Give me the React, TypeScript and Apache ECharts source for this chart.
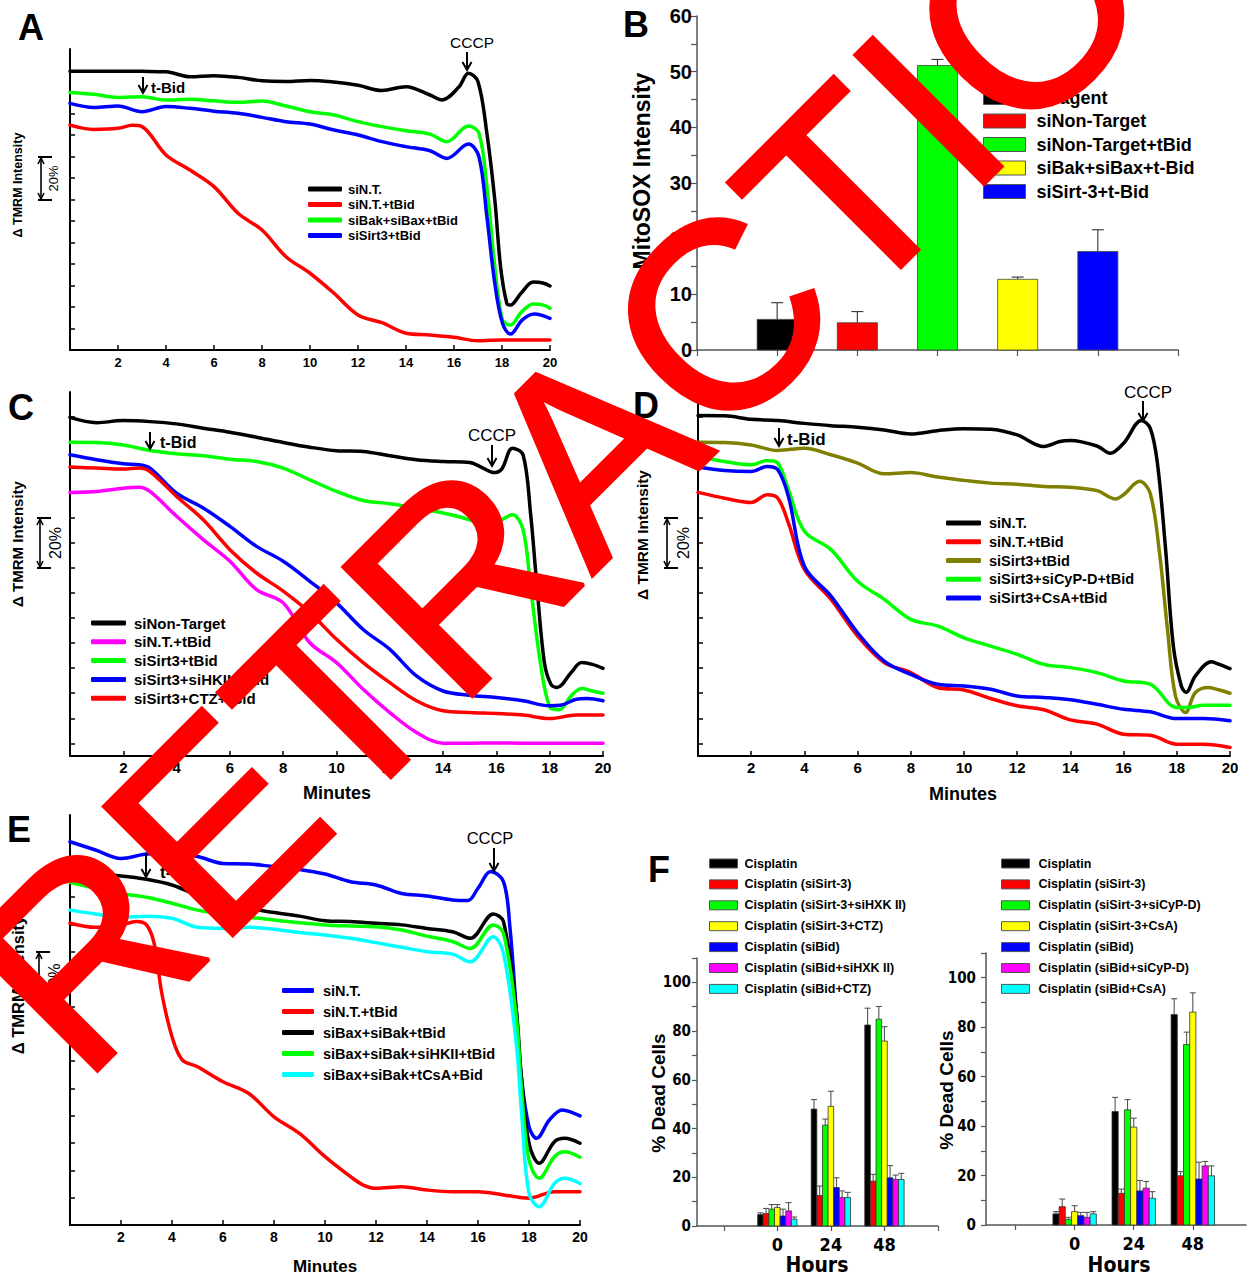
import React, { useEffect, useRef } from "react";
import * as echarts from "echarts";

const SANS = '"Liberation Sans", Arial, Helvetica, sans-serif';
const NARROW = '"Liberation Sans Narrow", "Arial Narrow", "DejaVu Sans Condensed", sans-serif';

const BLACK = "#000000";
const RED = "#ff0000";
const GREEN = "#00ff00";
const BLUE = "#0000ff";
const MAGENTA = "#ff00ff";
const CYAN = "#00ffff";
const YELLOW = "#ffff00";
const OLIVE = "#808000";

// ---------------- Panel A (minutes, relative TMRM %) ----------------
const aNames = ["siN.T.", "siN.T.+tBid", "siBak+siBax+tBid", "siSirt3+tBid"];
const aColors = [BLACK, RED, GREEN, BLUE];
const aNT = [[0,129.7],[2,129.7],[3,129.6],[4,129.4],[5,127.1],[6,127.6],[7,126.8],[8,125.2],[9,124.9],[10,125.4],[11,124.6],[12,123.1],[13,120.7],[14,122.5],[15,118.6],[15.5,116.3],[16.2,122.3],[16.6,128.7],[17,124.8],[17.37,100.8],[17.7,69.8],[17.94,38.8],[18.2,21.7],[18.35,20.9],[18.8,26.5],[19.3,31.6],[19.7,31.2],[20,29.8]];
const aNTtBid = [[0,104.6],[1,102.6],[2,103.1],[2.6,104.5],[3,103.9],[4,90.7],[5,83.7],[6,76.0],[7,63.6],[8,55.8],[9,43.4],[10,35.7],[11,26.4],[12,16.3],[13,12.7],[14,7.8],[15,7.0],[16,5.9],[17,4.3],[18,4.7],[19,4.7],[20,4.7]];
const aBak = [[0,119.8],[1,118.9],[2,117.5],[3,117.8],[4,116.3],[5,116.6],[6,115.9],[7,115.2],[8,115.8],[9,113.5],[10,110.8],[11,109.3],[12,106.2],[13,103.9],[14,102.0],[15,100.4],[15.7,96.9],[16.6,104.2],[17.04,100.8],[17.37,76],[17.7,38.8],[18.02,14],[18.35,11.6],[18.8,17.5],[19.3,21.4],[19.7,21],[20,19.4]];
const aSirt3 = [[0,114.7],[1,112.8],[2,113.5],[3,110.8],[4,113.2],[5,112.4],[6,111.1],[7,110.1],[8,108.2],[9,106.2],[10,105.1],[11,102.3],[12,100.0],[13,96.9],[14,94.6],[15,92.7],[15.7,89.1],[16.6,95.8],[17.04,89.9],[17.37,62],[17.7,31],[18.02,12.4],[18.35,7.4],[18.85,14],[19.34,16.7],[20,14.7]];
const aData = [aNT, aNTtBid, aBak, aSirt3];

// ---------------- Panel B (MitoSOX intensity) ----------------
const bNames = ["Reagent", "siNon-Target", "siNon-Target+tBid", "siBak+siBax+t-Bid", "siSirt-3+t-Bid"];
const bColors = [BLACK, RED, GREEN, YELLOW, BLUE];
const bValues = [5.5, 4.9, 51.1, 12.7, 17.7];
const bErrors = [3.0, 2.0, 1.1, 0.4, 3.9];

// ---------------- Panel C ----------------
const cNames = ["siNon-Target", "siN.T.+tBid", "siSirt3+tBid", "siSirt3+siHKII+tBid", "siSirt3+CTZ+tBid"];
const cColors = [BLACK, MAGENTA, GREEN, BLUE, RED];
const cNT = [[0,129.9],[1,127.8],[2,128.6],[3,128.2],[4,127.3],[5,125.6],[6,124.0],[7,122.0],[8,119.9],[9,118.0],[10,116.6],[11,116.3],[12,114.6],[13,113.0],[14,112.3],[15,111.9],[15.5,109.7],[15.9,107.9],[16.2,109.3],[16.6,117.6],[17.0,115.0],[17.28,91.8],[17.5,65.3],[17.8,32.2],[18.05,23.5],[18.28,22.3],[18.8,28.2],[19.2,32.2],[19.6,31.5],[20,29.9]];
const cNTtBid = [[0,100.0],[1,100.4],[2,101.7],[2.6,102.1],[3,100.4],[4,90.5],[5,81.2],[6,72.6],[7,61.3],[8,56.0],[9,40.1],[10,32.2],[11,21.6],[12,12.3],[13,4.4],[14,0.1],[15,0.1],[16,0.2],[17,0.1],[18,0.1],[19,0.1],[20,0.1]];
const cSirt3 = [[0,120.0],[1,119.9],[2,118.9],[3,116.7],[4,115.4],[5,114.6],[6,113.2],[7,112.3],[8,109.7],[9,105.0],[10,100.4],[11,96.8],[12,95.5],[13,93.8],[14,91.8],[15,89.1],[15.6,86.5],[16.1,88.5],[16.6,91.1],[17.0,85.2],[17.28,62.6],[17.65,32.2],[18.02,14.3],[18.36,13.4],[18.8,18.9],[19.2,21.9],[19.6,20.9],[20,20.0]];
const cHK = [[0,115.0],[1,113.0],[2,111.4],[2.6,111.0],[3,109.7],[4,99.7],[5,93.8],[6,86.5],[7,78.5],[8,72.6],[9,64.6],[10,56.0],[11,45.4],[12,37.5],[13,26.9],[14,20.9],[15,19.2],[16,18.3],[17,17.0],[18,15.0],[18.4,15.2],[19,17.6],[19.4,17.9],[20,17.0]];
const cCTZ = [[0,110.1],[1,109.7],[2,109.3],[2.6,109.7],[3,108.3],[4,98.4],[5,89.1],[6,77.2],[7,67.9],[8,60.7],[9,52.1],[10,41.5],[11,32.2],[12,24.2],[13,17.0],[14,13.0],[15,12.3],[16,11.9],[17,11.3],[18,9.9],[19,11.3],[20,11.3]];
const cData = [cNT, cNTtBid, cSirt3, cHK, cCTZ];

// ---------------- Panel D ----------------
const dNames = ["siN.T.", "siN.T.+tBid", "siSirt3+tBid", "siSirt3+siCyP-D+tBid", "siSirt3+CsA+tBid"];
const dColors = [BLACK, RED, OLIVE, GREEN, BLUE];
const dNT = [[0,130.6],[1,130.5],[2,129.1],[3,128.6],[4,127.5],[5,126.6],[6,126.0],[7,124.9],[8,123.3],[9,124.6],[10,125.4],[11,125.2],[12,122.9],[13,118.3],[13.6,120.3],[14,120.7],[15,118.5],[15.5,115.6],[16,119.6],[16.67,128.6],[17,125.6],[17.27,111.7],[17.57,78.5],[17.87,38.8],[18.17,22.9],[18.35,20.3],[18.7,26.9],[19.3,32.5],[19.6,31.5],[20,29.8]];
const dNTtBid = [[0,100.0],[1,97.7],[2,96.0],[2.6,99.1],[3,97.7],[3.4,87.8],[4,69.3],[5,57.4],[6,42.8],[7,32.2],[8,28.2],[9,22.3],[10,21.3],[11,17.9],[12,15.0],[13,13.4],[14,9.4],[15,7.7],[16,3.7],[17,3.3],[18,-0.3],[19,-0.3],[20,-1.6]];
const dSirt3 = [[0,120.0],[1,119.9],[2,118.9],[3,116.7],[4,117.6],[5,115.0],[6,111.7],[7,107.4],[8,107.9],[9,106.1],[10,104.8],[11,103.7],[12,103.3],[13,102.4],[14,102.1],[15,100.7],[15.7,97.4],[16,99.1],[16.6,104.4],[17,99.7],[17.35,75.9],[17.65,45.4],[17.95,18.9],[18.33,12.3],[18.7,20.3],[19.2,22.3],[19.6,21.3],[20,20.0]];
const dCyp = [[0,114.3],[1,112.3],[2,111.0],[2.6,112.7],[3,111.7],[3.4,101.1],[4,84.5],[5,77.2],[6,64.6],[7,57.4],[8,49.4],[9,46.8],[10,42.1],[11,38.8],[12,35.5],[13,31.5],[14,30.2],[15,28.2],[16,24.9],[17,23.6],[18,14.3],[18.4,14.3],[19,15.2],[20,15.2]];
const dCsA = [[0,110.1],[1,108.7],[2,108.3],[2.6,110.3],[3,109.0],[3.4,98.4],[4,70.6],[5,58.7],[6,44.1],[7,32.8],[8,27.5],[9,23.6],[10,22.9],[11,21.6],[12,18.9],[13,18.3],[14,17.4],[15,15.6],[16,13.6],[17,12.6],[18,9.9],[19,9.9],[20,9.0]];
const dData = [dNT, dNTtBid, dSirt3, dCyp, dCsA];

// ---------------- Panel E ----------------
const eNames = ["siN.T.", "siN.T.+tBid", "siBax+siBak+tBid", "siBax+siBak+siHKII+tBid", "siBax+siBak+tCsA+Bid"];
const eColors = [BLUE, RED, BLACK, GREEN, CYAN];
const eNT = [[0,140.2],[1,137.2],[2,134.1],[3,135.7],[4,136.0],[5,134.8],[6,132.3],[7,132.1],[8,131.1],[9,130.1],[10,128.4],[11,125.6],[12,124.4],[13,121.3],[14,120.4],[15,118.9],[15.6,118.7],[16,123.2],[16.5,129.3],[17,125.6],[17.25,109.1],[17.5,78.7],[17.7,54.3],[18,36.0],[18.3,31.7],[18.8,38.4],[19.3,42.1],[19.6,41.5],[20,39.9]];
const eNTtBid = [[0,110.4],[1,108.9],[2,109.8],[2.6,111.0],[3,109.8],[3.3,103.0],[3.6,84.8],[4,68.9],[4.4,60.4],[5,57.9],[6,52.4],[7,48.2],[8,39.6],[9,33.5],[10,25.0],[11,17.7],[11.5,14.6],[12,13.4],[13,14.0],[14,12.8],[15,12.2],[16,12.2],[17,11.0],[18,9.8],[19,12.2],[20,12.2]];
const eBax = [[0,128.7],[1,128.3],[2,127.7],[3,126.5],[4,124.4],[5,120.7],[6,118.3],[7,115.9],[8,114.3],[9,113.0],[10,111.3],[11,111.0],[12,110.4],[13,109.8],[14,108.5],[15,107.3],[15.7,104.9],[16.6,113.8],[17,111.0],[17.5,78.7],[17.7,54.3],[18,29.9],[18.4,22.6],[19,30.5],[19.4,31.7],[20,29.9]];
const eHK = [[0,125.4],[1,123.2],[2,121.3],[3,119.9],[4,117.7],[5,115.2],[6,113.8],[7,112.6],[8,111.6],[9,110.6],[10,109.8],[11,109.4],[12,109.1],[13,107.9],[14,105.7],[15,103.7],[15.7,101.2],[16.6,109.8],[17,106.7],[17.5,76.2],[17.7,50.6],[18,23.8],[18.4,17.1],[19,25.0],[19.4,26.8],[20,24.8]];
const eCsA = [[0,115.2],[1,113.8],[2,112.6],[3,113.0],[4,112.2],[5,108.9],[6,108.5],[7,108.9],[8,108.2],[9,107.0],[10,106.1],[11,104.9],[12,103.3],[13,101.6],[14,100.0],[15,99.1],[15.7,96.3],[16.6,105.5],[17,99.4],[17.5,66.5],[17.7,42.1],[18,11.6],[18.4,6.7],[19,15.2],[19.4,17.1],[20,15.2]];
const eData = [eNT, eNTtBid, eBax, eHK, eCsA];

// ---------------- Panel F ----------------
const fHours = ["0", "24", "48"];
const fColors = [BLACK, RED, GREEN, YELLOW, BLUE, MAGENTA, CYAN];
const fLeftNames = ["Cisplatin", "Cisplatin (siSirt-3)", "Cisplatin (siSirt-3+siHXK II)", "Cisplatin (siSirt-3+CTZ)", "Cisplatin (siBid)", "Cisplatin (siBid+siHXK II)", "Cisplatin (siBid+CTZ)"];
const fLeftValues = [[4.7,48.0,82.5],[5.1,12.5,18.4],[6.9,41.4,84.9],[7.6,49.1,75.9],[4.1,15.8,19.8],[6.2,11.7,19.1],[2.8,11.7,19.1]];
const fLeftErrors = [[0.7,3.9,6.9],[2.1,3.9,2.8],[1.9,2.5,5.2],[1.2,6.2,5.9],[2.8,4.0,5.0],[3.4,2.7,1.8],[0.9,2.1,2.5]];
const fRightNames = ["Cisplatin", "Cisplatin (siSirt-3)", "Cisplatin (siSirt-3+siCyP-D)", "Cisplatin (siSirt-3+CsA)", "Cisplatin (siBid)", "Cisplatin (siBid+siCyP-D)", "Cisplatin (siBid+CsA)"];
const fRightValues = [[4.5,45.9,85.1],[7.4,12.8,19.9],[2.3,46.6,73.0],[5.4,39.6,86.1],[3.8,13.8,18.6],[3.1,14.9,23.9],[4.5,10.8,19.9]];
const fRightErrors = [[0.9,5.7,6.4],[3.1,1.7,1.7],[0.8,4.1,5.0],[2.4,3.6,7.8],[1.3,4.2,6.8],[2.0,2.7,1.8],[0.9,2.7,4.0]];

// tick lists
const ticksA = [10,20,30,40,50,60,70,80,90,100,110,120,130];
const ticksCD = [0,10,20,30,40,50,60,70,80,90,100,110,120,130];
const ticksE = [10,20,30,40,50,60,70,80,90,100,110,120,130,140];
const ticksB = [0,5,10,15,20,25,30,35,40,45,50,55,60];
const ticksF = [0,10,20,30,40,50,60,70,80,90,100,110];
const labelsF = [0,20,40,60,80,100];

// ---------------- helpers ----------------
function lineSeries(names: string[], colors: string[], datas: number[][][], idx: number) {
  return names.map((n, i) => ({
    type: "line",
    name: n,
    xAxisIndex: idx,
    yAxisIndex: idx,
    data: datas[i],
    symbol: "none",
    showSymbol: false,
    smooth: 0.35,
    lineStyle: { color: colors[i], width: 3.5, cap: "round", join: "round" },
    itemStyle: { color: colors[i] },
    silent: true,
    z: 3,
  }));
}

function makeBarRender(halfW: number, capHalf: number, errColor: string, border: string) {
  return (params: any, api: any) => {
    const x = api.value(0);
    const v = api.value(1);
    const e = api.value(2);
    const p0 = api.coord([x - halfW, v]);
    const p1 = api.coord([x + halfW, 0]);
    const mid = api.coord([x, v]);
    const top = api.coord([x, v + e]);
    const color = api.visual("color");
    return {
      type: "group",
      children: [
        { type: "line", shape: { x1: mid[0], y1: mid[1], x2: top[0], y2: top[1] }, style: { stroke: errColor, lineWidth: 1.1 } },
        { type: "line", shape: { x1: top[0] - capHalf, y1: top[1], x2: top[0] + capHalf, y2: top[1] }, style: { stroke: errColor, lineWidth: 1.1 } },
        { type: "rect", shape: { x: p0[0], y: p0[1], width: p1[0] - p0[0], height: p1[1] - p0[1] }, style: { fill: color, stroke: border, lineWidth: 0.8 } },
      ],
    };
  };
}

function lineLegend(names: string[], colors: string[], left: number, top: number, fontSize: number, lineHeight: number, gap: number, iconW: number, textPad: number) {
  return {
    orient: "vertical",
    left,
    top,
    padding: 0,
    itemWidth: iconW,
    itemHeight: 5,
    itemGap: gap,
    icon: "roundRect",
    selectedMode: false,
    data: names.map((n, i) => ({ name: n, itemStyle: { color: colors[i] } })),
    textStyle: { fontSize, fontWeight: "bold", fontFamily: SANS, color: "#000", lineHeight, padding: [0, 0, 0, textPad] },
  };
}

function barLegend(names: string[], colors: string[], left: number, top: number, fontSize: number, lineHeight: number, gap: number, iconW: number, iconH: number, family: string, textPad: number) {
  return {
    orient: "vertical",
    left,
    top,
    padding: 0,
    itemWidth: iconW,
    itemHeight: iconH,
    itemGap: gap,
    icon: "rect",
    selectedMode: false,
    itemStyle: { borderColor: "#555", borderWidth: 1 },
    data: names.map((n, i) => ({ name: n, itemStyle: { color: colors[i], borderColor: "#555", borderWidth: 1 } })),
    textStyle: { fontSize, fontWeight: "bold", fontFamily: family, color: "#000", lineHeight, padding: [0, 0, 0, textPad] },
  };
}

function lineXAxis(idx: number, fontSize: number, margin: number) {
  return {
    gridIndex: idx,
    type: "value",
    min: 0,
    max: 20,
    interval: 2,
    axisLine: { onZero: false, lineStyle: { color: "#000", width: 2 } },
    axisTick: { inside: true, length: 5, lineStyle: { color: "#000", width: 1.5 } },
    axisLabel: { formatter: (v: number) => (v === 0 ? "" : String(v)), fontSize, fontWeight: "bold", fontFamily: SANS, color: "#000", margin },
    splitLine: { show: false },
  };
}

function lineYAxis(idx: number, min: number, max: number, ticks: number[]) {
  return {
    gridIndex: idx,
    type: "value",
    min,
    max,
    axisLine: { show: true, onZero: false, lineStyle: { color: "#000", width: 2 } },
    axisTick: { show: true, inside: true, length: 5, customValues: ticks, lineStyle: { color: "#000", width: 1.5 } },
    axisLabel: { show: false },
    splitLine: { show: false },
  };
}

function txt(text: string, x: number, y: number, size: number, o: any = {}) {
  const align = o.align || "center";
  return {
    type: "text",
    x,
    y,
    rotation: o.rot || 0,
    z: o.z ?? 50,
    silent: true,
    style: {
      text,
      fontSize: size,
      fontWeight: o.weight || "bold",
      fontFamily: o.family || SANS,
      fill: o.color || "#000",
      textAlign: align,
      align,
      textVerticalAlign: "middle",
      verticalAlign: "middle",
    },
  };
}

function arrowDown(x: number, y1: number, y2: number) {
  return [
    { type: "line", z: 50, silent: true, shape: { x1: x, y1, x2: x, y2: y2 - 1 }, style: { stroke: "#000", lineWidth: 2 } },
    { type: "polyline", z: 50, silent: true, shape: { points: [[x - 4.5, y2 - 8], [x, y2], [x + 4.5, y2 - 8]] }, style: { stroke: "#000", lineWidth: 2, fill: null } },
  ];
}

function scaleBar(x: number, y1: number, y2: number, tx: number, size: number) {
  const st = { stroke: "#000", lineWidth: 1.6, fill: null };
  return [
    { type: "line", z: 50, silent: true, shape: { x1: x, y1, x2: x, y2 }, style: st },
    { type: "line", z: 50, silent: true, shape: { x1: x - 3, y1, x2: x + 11, y2: y1 }, style: { ...st, lineWidth: 2 } },
    { type: "line", z: 50, silent: true, shape: { x1: x - 3, y1: y2, x2: x + 11, y2 }, style: { ...st, lineWidth: 2 } },
    { type: "polyline", z: 50, silent: true, shape: { points: [[x - 3, y1 + 7], [x, y1 + 1], [x + 3, y1 + 7]] }, style: st },
    { type: "polyline", z: 50, silent: true, shape: { points: [[x - 3, y2 - 7], [x, y2 - 1], [x + 3, y2 - 7]] }, style: st },
    txt("20%", tx, (y1 + y2) / 2, size, { rot: Math.PI / 2, weight: "normal" }),
  ];
}

function buildOption() {
  const FW = 0.105;
  const grids = [
    { left: 70, top: 49, width: 480, height: 301 }, // A
    { left: 697, top: 16, width: 481, height: 334 }, // B
    { left: 70, top: 392, width: 533, height: 364 }, // C
    { left: 698, top: 392, width: 532, height: 364 }, // D
    { left: 70, top: 815, width: 510, height: 410 }, // E
    { left: 697, top: 958, width: 241, height: 268 }, // F left
    { left: 986, top: 953, width: 260, height: 272 }, // F right
  ];

  const fX = (idx: number, max: number, tickVals: number[], margin: number) => ({
    gridIndex: idx,
    type: "value",
    min: 0,
    max,
    axisLine: { onZero: false, lineStyle: { color: "#555", width: 1.5 } },
    axisTick: { length: 5, customValues: tickVals, lineStyle: { color: "#555", width: 1.2 } },
    axisLabel: {
      customValues: [1.5, 2.5, 3.5],
      formatter: (v: number) => fHours[Math.round(v - 1.5)] ?? "",
      fontSize: 18,
      fontWeight: "bold",
      fontFamily: NARROW,
      color: "#000",
      margin,
    },
    splitLine: { show: false },
  });
  const fY = (idx: number, margin: number) => ({
    gridIndex: idx,
    type: "value",
    min: 0,
    max: 110,
    axisLine: { show: true, onZero: false, lineStyle: { color: "#555", width: 1.5 } },
    axisTick: { show: true, length: 5, customValues: ticksF, lineStyle: { color: "#555", width: 1.2 } },
    axisLabel: { customValues: labelsF, fontSize: 15, fontWeight: "bold", fontFamily: NARROW, color: "#000", margin },
    splitLine: { show: false },
  });

  const xAxis = [
    lineXAxis(0, 13, 6),
    {
      gridIndex: 1,
      type: "value",
      min: 0,
      max: 6,
      interval: 1,
      axisLine: { onZero: false, lineStyle: { color: "#555", width: 1.5 } },
      axisTick: { length: 6, lineStyle: { color: "#555", width: 1.2 } },
      axisLabel: { show: false },
      splitLine: { show: false },
    },
    lineXAxis(2, 15, 4),
    lineXAxis(3, 15, 4),
    lineXAxis(4, 14, 5),
    fX(5, 4.5, [0.5, 1.5, 2.5, 3.5, 4.5], 9),
    fX(6, 4.4, [0.5, 1.5, 2.5, 3.5], 9),
  ];
  const yAxis = [
    lineYAxis(0, 0, 140, ticksA),
    {
      gridIndex: 1,
      type: "value",
      min: 0,
      max: 60,
      interval: 10,
      axisLine: { show: true, onZero: false, lineStyle: { color: "#555", width: 1.5 } },
      axisTick: { show: true, length: 6, customValues: ticksB, lineStyle: { color: "#555", width: 1.2 } },
      axisLabel: { fontSize: 20, fontWeight: "bold", fontFamily: SANS, color: "#000", margin: 5 },
      splitLine: { show: false },
    },
    lineYAxis(2, -5, 140, ticksCD),
    lineYAxis(3, -5, 140, ticksCD),
    lineYAxis(4, 0, 150, ticksE),
    fY(5, 6),
    fY(6, 10),
  ];

  const series: any[] = [
    ...lineSeries(aNames, aColors, aData, 0),
    ...lineSeries(cNames, cColors, cData, 2),
    ...lineSeries(dNames, dColors, dData, 3),
    ...lineSeries(eNames, eColors, eData, 4),
  ];
  bNames.forEach((n, i) => {
    series.push({
      type: "custom",
      name: n,
      xAxisIndex: 1,
      yAxisIndex: 1,
      itemStyle: { color: bColors[i] },
      data: [[i + 1, bValues[i], bErrors[i]]],
      renderItem: makeBarRender(0.25, 6, "#333", "#444"),
      z: 3,
      silent: true,
    });
  });
  fLeftNames.forEach((n, s) => {
    series.push({
      type: "custom",
      name: n,
      xAxisIndex: 5,
      yAxisIndex: 5,
      itemStyle: { color: fColors[s] },
      data: fLeftValues[s].map((v, g) => [g + 1.5 + (s - 3) * FW, v, fLeftErrors[s][g]]),
      renderItem: makeBarRender(FW / 2, 3, "#555", "#333"),
      z: 3,
      silent: true,
    });
  });
  fRightNames.forEach((n, s) => {
    series.push({
      type: "custom",
      name: n,
      xAxisIndex: 6,
      yAxisIndex: 6,
      itemStyle: { color: fColors[s] },
      data: fRightValues[s].map((v, g) => [g + 1.5 + (s - 3) * FW, v, fRightErrors[s][g]]),
      renderItem: makeBarRender(FW / 2, 3, "#555", "#333"),
      z: 3,
      silent: true,
    });
  });

  const legend = [
    lineLegend(aNames, aColors, 308, 182, 13, 14, 1.5, 34, 1),
    barLegend(bNames, bColors, 983, 88, 18, 19, 4.5, 42, 14, SANS, 6),
    lineLegend(cNames, cColors, 91, 615, 15, 16, 2.8, 35, 3),
    lineLegend(dNames, dColors, 946, 515, 14.5, 16, 2.75, 35, 3),
    lineLegend(eNames, eColors, 282, 982, 14.5, 17, 4, 32, 4),
    barLegend(fLeftNames, fColors, 709, 855, 12.5, 17, 3.9, 28, 9, SANS, 2),
    barLegend(fRightNames, fColors, 1001, 855, 12.5, 17, 3.9, 28, 9, SANS, 4),
  ];

  const graphics: any[] = [
    // panel letters
    txt("A", 31, 27, 36),
    txt("B", 636, 24, 36),
    txt("C", 21, 407, 36),
    txt("D", 646, 405, 36),
    txt("E", 19, 829, 36),
    txt("F", 659, 869, 36),
    // axis titles
    txt("Δ TMRM Intensity", 18, 185, 12.5, { rot: Math.PI / 2 }),
    txt("MitoSOX Intensity", 642, 171, 23, { rot: Math.PI / 2 }),
    txt("Δ TMRM Intensity", 17, 544, 15, { rot: Math.PI / 2 }),
    txt("Δ TMRM Intensity", 642, 535, 15.5, { rot: Math.PI / 2 }),
    txt("Δ TMRM Intensity", 18, 985, 16.5, { rot: Math.PI / 2 }),
    txt("Minutes", 337, 793, 18),
    txt("Minutes", 963, 794, 18),
    txt("Minutes", 325, 1266, 17),
    txt("% Dead Cells", 658, 1093, 19, { rot: Math.PI / 2 }),
    txt("% Dead Cells", 946, 1090, 19, { rot: Math.PI / 2 }),
    txt("Hours", 817, 1265, 21, { family: NARROW }),
    txt("Hours", 1119, 1265, 21, { family: NARROW }),
    // annotations
    ...arrowDown(143, 77, 93),
    txt("t-Bid", 151, 87, 15, { align: "left" }),
    txt("CCCP", 472, 42, 15.5, { weight: "normal" }),
    ...arrowDown(467, 52, 70),
    ...arrowDown(150, 432, 449),
    txt("t-Bid", 160, 442, 16, { align: "left" }),
    txt("CCCP", 492, 435, 17, { weight: "normal" }),
    ...arrowDown(492, 445, 466),
    ...arrowDown(779, 428, 446),
    txt("t-Bid", 787, 439, 17, { align: "left" }),
    txt("CCCP", 1148, 392, 17, { weight: "normal" }),
    ...arrowDown(1143, 401, 421),
    ...arrowDown(146, 853, 877),
    txt("t-Bid", 160, 872, 17, { align: "left" }),
    txt("CCCP", 490, 838, 16.5, { weight: "normal" }),
    ...arrowDown(494, 848, 871),
    // 20% scale bars
    ...scaleBar(41, 157, 200, 53, 13),
    ...scaleBar(40, 518, 568, 55, 16),
    ...scaleBar(667, 518, 568, 683, 16),
    ...scaleBar(39, 952, 1007, 54, 16),
    // watermark
    {
      type: "text",
      x: 626,
      y: 412,
      rotation: Math.PI / 4,
      z: 200,
      silent: true,
      style: {
        text: "RETRACTION",
        fontSize: 265,
        fontWeight: "normal",
        fontFamily: SANS,
        fill: "#ff0000",
        stroke: "#ff0000",
        lineWidth: 4,
        textAlign: "center",
        align: "center",
        textVerticalAlign: "middle",
        verticalAlign: "middle",
      },
    },
  ];

  return {
    animation: false,
    backgroundColor: "#ffffff",
    grid: grids,
    xAxis,
    yAxis,
    series,
    legend,
    graphic: { elements: graphics },
  };
}

export default function App() {
  const ref = useRef<HTMLDivElement>(null);
  useEffect(() => {
    document.body.style.margin = "0";
    const chart = echarts.init(ref.current as HTMLDivElement, null, { renderer: "svg" });
    chart.setOption(buildOption() as any);
    return () => chart.dispose();
  }, []);
  return <div ref={ref} style={{ width: 1248, height: 1277, background: "#fff" }} />;
}
